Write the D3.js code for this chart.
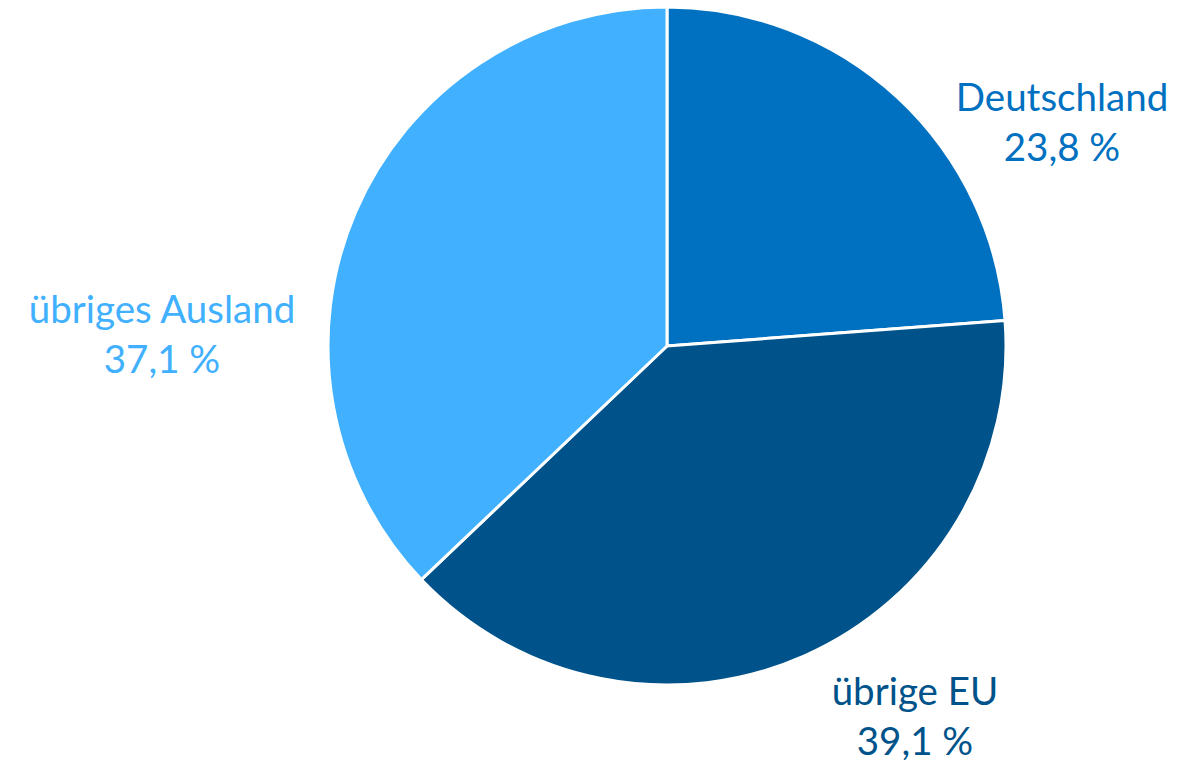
<!DOCTYPE html>
<html><head><meta charset="utf-8">
<script src="https://cdn.jsdelivr.net/npm/d3@7"></script>
<style>body{margin:0;background:#fff}</style>
</head><body>
<svg id="c" width="1202" height="762"></svg>
<script>
const categories = ["Deutschland", "übrige EU", "übriges Ausland"];
const values = [23.8, 39.1, 37.1];
const colors = ["#0070C0", "#00538A", "#40B0FF"];
const labelPos = [[1062, 111], [915, 705], [162, 323]];

const svg = d3.select("#c");
const cx = 667, cy = 346, r = 339;
const g = svg.append("g").attr("transform", `translate(${cx},${cy})`);
const pie = d3.pie().sort(null).value(d => d)(values);
const arc = d3.arc().innerRadius(0).outerRadius(r);
g.selectAll("path").data(pie).join("path")
  .attr("d", arc).attr("fill", (d,i) => colors[i])
  .attr("stroke", "#fff").attr("stroke-width", 3).attr("stroke-linejoin", "round");

const fmt = v => d3.format(".1f")(v).replace(".", ",") + " %";
categories.forEach((c, i) => {
  const t = svg.append("text").attr("text-anchor", "middle")
    .attr("font-family", "Lato, 'Open Sans', sans-serif").attr("font-size", 38.5)
    .attr("fill", colors[i]);
  t.append("tspan").attr("x", labelPos[i][0]).attr("y", labelPos[i][1]).text(c);
  t.append("tspan").attr("x", labelPos[i][0]).attr("y", labelPos[i][1] + 50).text(fmt(values[i]));
});
</script>
</body></html>
